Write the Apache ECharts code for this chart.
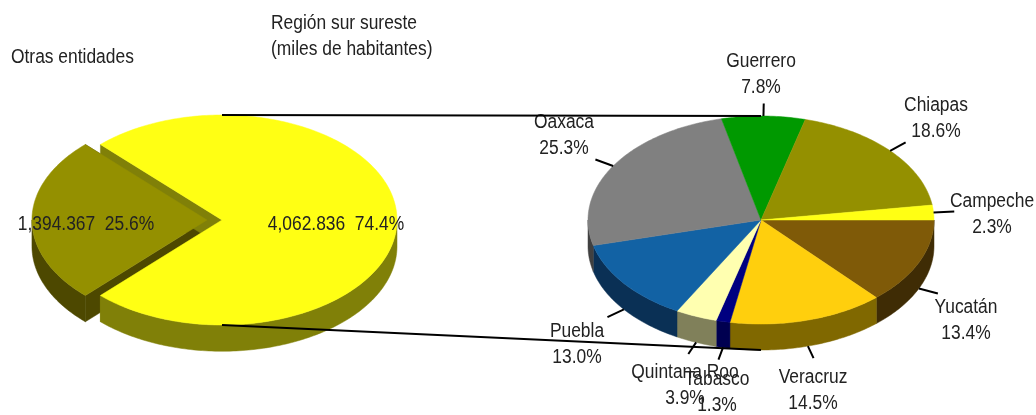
<!DOCTYPE html>
<html>
<head>
<meta charset="utf-8">
<style>
  html, body { margin: 0; padding: 0; background: #fff; }
  #chart { width: 1036px; height: 415px; }
</style>
<script src="https://cdn.jsdelivr.net/npm/echarts@6/dist/echarts.min.js"></script>
</head>
<body>
<div id="chart"></div>
<script>
// left pie, thousands of inhabitants
const otherNames = ['Región sur sureste', 'Otras entidades']
const otherValues = [4062.836, 1394.367]

// right pie, share of each state in percent, clockwise from 3 o'clock
const stateNames = ['Yucatán', 'Veracruz', 'Tabasco', 'Quintana Roo', 'Puebla', 'Oaxaca', 'Guerrero', 'Chiapas', 'Campeche']
const statePercents = [13.4, 14.5, 1.3, 3.9, 13.0, 25.3, 7.8, 18.6, 2.3]

const FONT = '"Liberation Sans", sans-serif'
const TEXT = '#222'
const TEXT_SQUEEZE = 0.87 // the original type is a narrow face, so the text gets squeezed
const DEPTH = 0.25 // wall height in axis units
const EXPLODE = -0.086 // sideways shift of the pulled-out slice

const otherTop = ['#ffff14', '#949000']
const otherWall = ['#808008', '#4d4800']
const stateTop = ['#7f5a08', '#ffcf0d', '#000080', '#ffffb0', '#1262a4', '#808080', '#009900', '#949000', '#ffff14']
const stateWall = ['#3f2c05', '#806800', '#000050', '#80805a', '#0a3055', '#404040', '#004d00', '#4a4800', '#808008']

// label centres in pixels, same order as stateNames
const stateLabelPos = [[966, 320], [813, 390], [717, 392], [685, 385], [577, 344], [564, 135], [761, 74], [936, 118], [992, 214]]

const point = (deg, r = 1, dx = 0, dy = 0) => {
  const a = deg * Math.PI / 180
  return [dx + r * Math.cos(a), dy + r * Math.sin(a)]
}

const arcPoints = (from, to, dx = 0, dy = 0) => {
  const pts = []
  const steps = Math.max(2, Math.ceil(to - from))
  for (let i = 0; i <= steps; i++) pts.push(point(from + (to - from) * i / steps, 1, dx, dy))
  return pts
}

const polygon = (api, pts, color) => ({
  type: 'polygon',
  shape: { points: pts.map(p => api.coord(p)) },
  style: { fill: color, stroke: color, lineWidth: 0.5 }
})

// top face of a slice
const topItem = (colors, dx) => (params, api) => {
  const from = api.value(1)
  const to = api.value(2)
  return polygon(api, [[dx, 0], ...arcPoints(from, to, dx)], colors[api.value(0)])
}

// rim of a slice plus its two cut faces
const wallItem = (colors, dx, withCuts) => (params, api) => {
  const from = api.value(1)
  const to = api.value(2)
  const color = colors[api.value(0)]
  const children = []
  if (withCuts) {
    [from, to].forEach(deg => {
      const p = point(deg, 1, dx)
      children.push(polygon(api, [[dx, 0], p, [p[0], p[1] + DEPTH], [dx, DEPTH]], color))
    })
  }
  // only the parts facing the viewer: 0-180 and 360-540
  ;[[0, 180], [360, 540]].forEach(([lo, hi]) => {
    const a = Math.max(from, lo)
    const b = Math.min(to, hi)
    if (b > a) children.push(polygon(api, [...arcPoints(a, b, dx), ...arcPoints(a, b, dx, DEPTH).reverse()], color))
  })
  return { type: 'group', children }
}

const customSeries = (grid, data, renderItem) => ({
  type: 'custom',
  xAxisIndex: grid,
  yAxisIndex: grid,
  clip: false,
  silent: true,
  animation: false,
  data,
  renderItem
})

// slice angles from the values
const otherTotal = otherValues[0] + otherValues[1]
const otherSweep = otherValues[1] / otherTotal * 360
const otherSlices = [
  [0, 180 + otherSweep / 2, 540 - otherSweep / 2],
  [1, 180 - otherSweep / 2, 180 + otherSweep / 2]
]

const percentTotal = statePercents.reduce((s, v) => s + v, 0)
let running = 0
const stateSlices = statePercents.map((v, i) => {
  const from = running / percentTotal * 360
  running += v
  return [i, from, running / percentTotal * 360]
})

// leader line and two-line label for each state
const stateLabelItem = (params, api) => {
  const i = api.value(0)
  const mid = (api.value(1) + api.value(2)) / 2
  const drop = Math.sin(mid * Math.PI / 180) > 0.02 ? DEPTH : 0
  const start = api.coord(point(mid, 1, 0, drop))
  const end = api.coord(point(mid, 1.12, 0, drop))
  return {
    type: 'group',
    children: [
      {
        type: 'line',
        shape: { x1: start[0], y1: start[1], x2: end[0], y2: end[1] },
        style: { stroke: '#000', lineWidth: 2 }
      },
      {
        type: 'text',
        x: stateLabelPos[i][0],
        y: stateLabelPos[i][1],
        scaleX: TEXT_SQUEEZE,
        style: {
          text: stateNames[i] + '\n' + statePercents[i].toFixed(1) + '%',
          fill: TEXT,
          font: '20px ' + FONT,
          lineHeight: 26,
          align: 'center',
          verticalAlign: 'middle'
        }
      }
    ]
  }
}

const hiddenAxis = (gridIndex, inverse) => ({ type: 'value', gridIndex, min: -1, max: 1, show: false, inverse })

const chart = echarts.init(document.getElementById('chart'))

chart.setOption({
  backgroundColor: '#fff',
  animation: false,
  grid: [
    { left: 47, top: 115, width: 350, height: 210 },
    { left: 588, top: 116, width: 346, height: 208 }
  ],
  xAxis: [hiddenAxis(0, false), hiddenAxis(1, false)],
  yAxis: [hiddenAxis(0, true), hiddenAxis(1, true)],
  series: [
    customSeries(0, [otherSlices[1]], wallItem(otherWall, EXPLODE, true)),
    customSeries(0, [otherSlices[0]], wallItem(otherWall, 0, true)),
    customSeries(0, [otherSlices[0]], topItem(otherTop, 0)),
    customSeries(0, [otherSlices[1]], topItem(otherTop, EXPLODE)),
    customSeries(1, stateSlices, wallItem(stateWall, 0, false)),
    customSeries(1, stateSlices, topItem(stateTop, 0)),
    customSeries(1, stateSlices, stateLabelItem)
  ]
})

const formatOther = i => otherValues[i].toLocaleString('en-US', { minimumFractionDigits: 3 }) +
  '  ' + (otherValues[i] / otherTotal * 100).toFixed(1) + '%'

const freeText = (text, x, y, align) => ({
  type: 'text',
  x,
  y,
  z: 100,
  scaleX: TEXT_SQUEEZE,
  style: { text, fill: TEXT, font: '20px ' + FONT, lineHeight: 26, align, verticalAlign: 'middle' }
})

const connector = (a, b) => ({
  type: 'line',
  z: 90,
  shape: { x1: a[0], y1: a[1], x2: b[0], y2: b[1] },
  style: { stroke: '#000', lineWidth: 2 }
})

chart.setOption({
  graphic: [
    connector(chart.convertToPixel({ gridIndex: 0 }, [0, -1]), chart.convertToPixel({ gridIndex: 1 }, [0, -1])),
    connector(chart.convertToPixel({ gridIndex: 0 }, [0, 1]), chart.convertToPixel({ gridIndex: 1 }, [0, 1 + DEPTH])),
    freeText(otherNames[1], 11, 57, 'left'),
    freeText(otherNames[0] + '\n(miles de habitantes)', 271, 36, 'left'),
    freeText(formatOther(1), 86, 224, 'center'),
    freeText(formatOther(0), 336, 224, 'center')
  ]
})
</script>
</body>
</html>
